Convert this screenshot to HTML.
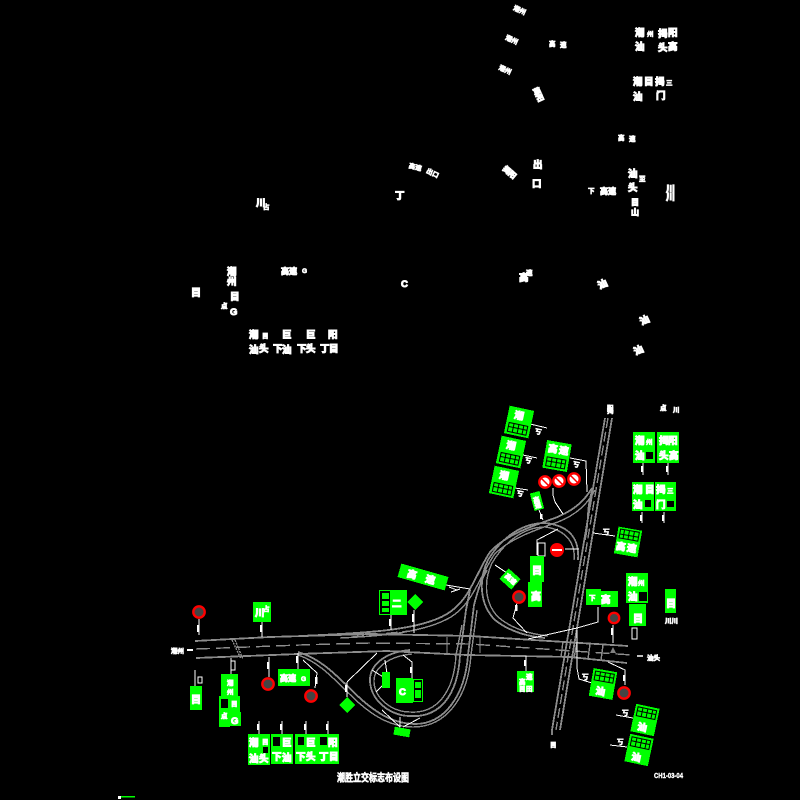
<!DOCTYPE html>
<html><head><meta charset="utf-8"><title>潮胜立交标志布设图</title>
<style>
html,body{margin:0;padding:0;background:#000}
svg{display:block}
text{font-family:"Liberation Sans","Noto Sans CJK SC",sans-serif;font-weight:bold;fill:#fff;stroke:#fff;stroke-width:1;font-size:9.5px}
.s{font-size:6.5px;stroke-width:.7}
.g{fill:#0f0;shape-rendering:crispEdges}
.r{fill:none;stroke:#8c8c8c;stroke-width:1.4;shape-rendering:crispEdges}
.w{fill:none;stroke:#fff;stroke-width:1;shape-rendering:crispEdges}
.f{fill:none;stroke:#fff;stroke-width:2.5;shape-rendering:crispEdges}
.k{fill:#000;shape-rendering:crispEdges}
.c{fill:#444;stroke:#f00;stroke-width:2.4}
</style></head><body>
<svg width="800" height="800" viewBox="0 0 800 800" xmlns="http://www.w3.org/2000/svg">
<rect width="800" height="800" fill="#000"/>
<defs><g id="p"><rect x="-11" y="0" width="22" height="12" fill="#0f0"/><rect x="-10" y="1" width="20" height="10" fill="#000"/><rect x="-9" y="2" width="4" height="3" fill="#0f0"/><rect x="-4" y="2" width="4" height="3" fill="#0f0"/><rect x="1" y="2" width="4" height="3" fill="#0f0"/><rect x="6" y="2" width="3" height="3" fill="#0f0"/><rect x="-9" y="6" width="4" height="4" fill="#0f0"/><rect x="-4" y="6" width="4" height="4" fill="#0f0"/><rect x="1" y="6" width="4" height="4" fill="#0f0"/><rect x="6" y="6" width="3" height="4" fill="#0f0"/></g></defs>

<!-- upper white annotation blocks -->
<g>
<text x="514" y="12" transform="rotate(25 519 8)" class="s">潮州</text>
<text x="506" y="42" transform="rotate(25 512 38)" class="s">潮州</text>
<text x="499" y="72" transform="rotate(25 505 69)" class="s">潮州</text>
<text x="549" y="46" class="s">高</text><text x="560" y="47" class="s">速</text>
<text x="532" y="96" transform="rotate(65 538 93)" style="font-size:7.5px">揭阳</text>
<text x="618" y="140" class="s">高</text><text x="629" y="141" class="s">速</text>
<text x="503" y="175" transform="rotate(40 510 171)" style="font-size:7.5px">揭阳</text>
<text x="533" y="168">出</text><text x="532" y="187">口</text>
<text x="588" y="193" class="s">下</text><text x="600" y="194" style="font-size:8px">高速</text>
<text x="628" y="177">汕</text><text x="639" y="181" class="s">至</text><text x="628" y="191">头</text>
<text x="631" y="205" style="font-size:8px">目</text><text x="631" y="215" style="font-size:8px">山</text>
<text x="666" y="200" style="font-size:9px">川</text><text x="666" y="192" style="font-size:9px">川</text>

<text x="635" y="36">潮</text><text x="647" y="36" class="s">州</text><text x="658" y="37">揭</text><text x="668" y="36">阳</text>
<text x="635" y="50">汕</text><text x="658" y="51">头</text><text x="668" y="50">高</text>
<text x="633" y="85">潮</text><text x="644" y="85">目</text><text x="655" y="85">揭</text><text x="666" y="85" class="s">三</text>
<text x="633" y="100">汕</text><text x="656" y="99">门</text>

<text x="409" y="169" transform="rotate(15 414 166)" class="s">高速</text>
<text x="427" y="175" transform="rotate(25 432 171)" class="s">出口</text>
<text x="256" y="206">川</text><text x="263" y="209" class="s">占</text>
<text x="395" y="199">丁</text>
<text x="281" y="274" style="font-size:8px">高速</text><text x="302" y="273" class="s">G</text>
<text x="401" y="287">C</text>
<text x="191" y="296" style="font-size:10px">目</text>
<text x="227" y="275">潮</text><text x="227" y="285">州</text>
<text x="230" y="300">目</text><text x="221" y="308" class="s">点</text><text x="230" y="315">G</text>
<text x="249" y="338">潮</text><text x="262" y="338" class="s">目</text><text x="249" y="353">汕</text><text x="259" y="352">头</text>
<text x="282" y="338">巨</text><text x="273" y="352">下</text><text x="282" y="353">汕</text>
<text x="306" y="338">巨</text><text x="297" y="352">下</text><text x="306" y="352">头</text>
<text x="328" y="338">阳</text><text x="320" y="352">丁</text><text x="329" y="352">目</text>
<text x="519" y="281">高</text><text x="526" y="275" class="s">速</text>
<text x="597" y="287" transform="rotate(-25 603 282)">汕</text>
<text x="639" y="323" transform="rotate(-25 645 318)">汕</text>
<text x="633" y="353" transform="rotate(-25 639 348)">汕</text>
</g>

<!-- roads -->
<g class="r">
<path d="M195 641 L270 637 L370 634 L470 636 L628 646" stroke-width="1.8"/>
<path d="M196 658 L298 654 L387 651 L467 655 L570 657 L627 663" stroke-width="1.8"/>
<path d="M196 649 L300 645 L370 643 L470 644 L632 655" stroke-dasharray="14 6"/>
<path d="M300 636 C370 633 420 630 447 614 C470 600 475 575 490 552 C505 535 535 525 555 518 C575 510 585 500 592 488" stroke-width="1.8"/>
<path d="M340 638 C385 636 425 632 451 617 C473 603 479 578 494 555 C508 539 538 529 558 522 C578 514 588 503 595 490"/>
<path d="M352 637 L410 631" stroke-dasharray="12 5"/>
<path d="M298 652 C325 660 340 680 362 700 C378 714 395 724 415 724 C445 724 465 695 468 655 L474 605 C478 590 481 580 487 570" stroke-width="1.8"/>
<path d="M298 655 C322 663 337 683 359 703 C375 717 392 727 413 727 C446 727 468 698 471 655 L477 610"/>
<path d="M410 650 C385 652 370 665 370 680 C370 700 390 716 410 716 C440 718 458 695 460 655 L466 610 L470 590" stroke-width="1.8"/>
<path d="M412 654 C390 656 374 667 374 681 C374 698 392 712 410 712 C436 714 454 693 456 655 L462 625"/>
<path d="M578 560 C580 535 565 525 545 523 C520 523 500 540 488 560 C478 580 480 605 495 620 C510 632 530 637 545 638" stroke-width="1.8"/>
<path d="M574 560 C576 540 562 529 545 527 C523 527 504 543 492 563 C483 582 485 603 498 617 C512 629 530 634 548 636"/>
<path d="M605 418 L552 730" stroke-width="1.8"/>
<path d="M612 418 L560 730" stroke-width="1.8"/>
<path d="M608 418 L556 730" stroke-dasharray="10 4"/>
<path d="M592 490 C585 515 590 520 585 540"/>
<path d="M232 640 L241 659 M235 640 L243 659" stroke-dasharray="2 1"/>
<path d="M447 637 L447 653 M480 637 L480 653 M563 641 L561 657 M577 642 L574 658 M590 644 L588 659 M603 645 L601 660"/>
</g>
<polygon points="613,647 616,653 610,653" fill="#808080"/>

<!-- white leaders -->
<g class="w">
<path d="M199 619V635M262 622V637M391 615V630M414 610V633M231 658V674M195 670V686M269 657V677M298 653V669M303 660L317 673L315 688M347 682V697M347 682L377 653"/>
<path d="M259 721V734M282 721V734M306 721V734M328 721V734"/>
<path d="M495 565L507 573M517 603L513 618L527 633M528 639L577 628L598 622V607M613 625V643M608 662L625 670V685M577 630L577 668L579 679L592 683"/>
<path d="M526 656V671M403 655L412 662V678M382 710L400 727M420 718L403 727M400 717V727M385 660L388 680M372 670L388 680M376 692L388 680M616 715L633 718M610 745L627 747"/>
<path d="M539 510L543 520M553 488V495L555 502L563 514M570 458L586 461L587 492M530 424L547 428M523 455L537 458M515 488L528 490M593 533L615 536M565 549H579M537 555V540L558 529"/>
<path d="M643 463V475M668 463V475M642 512V523M664 512V523"/>
<path d="M446 585L470 589M451 592L460 589M449 587L457 590"/>
<path d="M552 730V735"/>
</g>
<g class="f">
<path d="M198 625V632M261 625V632M390 619V626M413 614V622M268 662V669M297 656V663M316 677V684M346 685V692M258 724V730M281 724V730M305 724V730M327 724V730"/>
<path d="M516 605V611M612 628V635M624 675V681M525 660V666M411 667V673M541 514V519M642 466V472M667 466V472M641 515V521M663 515V521"/>
</g>
<rect x="231" y="661" width="4" height="9" fill="none" stroke="#fff"/><rect x="198" y="677" width="4" height="6" fill="none" stroke="#fff"/>
<rect x="632" y="628" width="5" height="11" fill="none" stroke="#fff"/><rect x="538" y="543" width="7" height="13" fill="none" stroke="#fff"/>
<text class="s" x="535" y="434" transform="rotate(12 538 431)">丂</text><text class="s" x="525" y="463" transform="rotate(12 529 460)">丂</text><text class="s" x="517" y="496" transform="rotate(12 520 492)">丂</text><text class="s" x="573" y="467" transform="rotate(12 577 464)">丂</text><text class="s" x="603" y="534">丂</text><text class="s" x="582" y="679">丂</text><text class="s" x="622" y="715">丂</text><text class="s" x="617" y="744">丂</text>

<!-- green signs -->
<g transform="translate(519,422) rotate(12)"><rect class="g" x="-12.5" y="-14" width="25" height="28"/><text x="-6" y="-3">潮</text><use href="#p" y="1"/></g>
<g transform="translate(511,452) rotate(12)"><rect class="g" x="-12.5" y="-14" width="25" height="28"/><text x="-6" y="-3">潮</text><use href="#p" y="1"/></g>
<g transform="translate(504,482) rotate(12)"><rect class="g" x="-12.5" y="-14" width="25" height="28"/><text x="-6" y="-3">潮</text><use href="#p" y="1"/></g>
<g transform="translate(557,456) rotate(10)"><rect class="g" x="-12.5" y="-14" width="25" height="28"/><text x="-10" y="-3">高</text><text x="1" y="-3">速</text><use href="#p" y="1"/></g>
<g transform="translate(628,542) rotate(190)"><rect class="g" x="-12" y="-13.5" width="24" height="27"/><use href="#p" y="1"/></g>
<text x="617" y="551" transform="rotate(10 628 542)">高</text><text x="628" y="551" transform="rotate(10 628 542)">速</text>
<g transform="translate(537,501) rotate(-15)"><rect class="g" x="-5" y="-9" width="10" height="18"/><text class="s" x="-3.5" y="1">高</text><text class="s" x="-3.5" y="7">速</text></g>
<rect class="g" x="633" y="432" width="22" height="31"/><rect class="g" x="657" y="432" width="22" height="31"/><rect class="k" x="646" y="452" width="7" height="7"/>
<text x="635" y="444">潮</text><text x="646" y="444" class="s">州</text><text x="635" y="459">汕</text><text x="659" y="444">揭</text><text x="668" y="444">阳</text><text x="659" y="459">头</text><text x="669" y="459">高</text>
<rect class="g" x="632" y="482" width="22" height="29"/><rect class="g" x="655" y="482" width="21" height="29"/><rect class="k" x="645" y="500" width="6" height="7"/><rect class="k" x="667" y="501" width="7" height="6"/>
<text x="633" y="493">潮</text><text x="645" y="493">目</text><text x="656" y="493">揭</text><text x="667" y="493" class="s">三</text><text x="633" y="508">汕</text><text x="656" y="508">门</text>

<rect class="g" x="530" y="556" width="14" height="26"/><rect class="g" x="528" y="582" width="14" height="25"/>
<text x="532" y="574" style="font-size:10px">目</text><text x="531" y="600" style="font-size:10px">高</text>
<g transform="translate(423,577) rotate(16)"><rect class="g" x="-24.5" y="-7" width="49" height="14"/><text x="-16" y="4">高</text><text x="3" y="4">速</text></g>
<rect class="g" x="379" y="590" width="28" height="25"/><rect class="k" x="380" y="591" width="10" height="23"/><rect class="g" x="382" y="593" width="7" height="6"/><rect class="g" x="382" y="601" width="7" height="5"/><rect class="g" x="382" y="608" width="7" height="4"/><text x="392" y="607">二</text>
<polygon class="g" points="415,594 423,602 415,610 407,602"/>
<g transform="translate(510,579) rotate(42)"><rect class="g" x="-8" y="-7" width="16" height="14"/><text class="s" x="-6" y="2">高速</text></g>
<rect class="g" x="253" y="602" width="18" height="20"/><text x="255" y="616">川</text><text class="s" x="263" y="611">占</text>
<rect class="g" x="586" y="589" width="15" height="16"/><rect class="g" x="601" y="591" width="17" height="16"/><text class="s" x="589" y="600">下</text><text x="601" y="603">高</text>
<rect class="g" x="626" y="573" width="22" height="30"/><rect class="g" x="629" y="604" width="17" height="22"/><rect class="k" x="639" y="592" width="8" height="9"/>
<text x="628" y="585">潮</text><text x="638" y="585" class="s">州</text><text x="628" y="600">汕</text><text x="633" y="622" style="font-size:10px">目</text>
<rect class="g" x="665" y="589" width="11" height="24"/><text x="666" y="607" style="font-size:10px">目</text><text class="s" x="665" y="623">川川</text>
<rect class="g" x="190" y="686" width="12" height="24"/><text x="191" y="703" style="font-size:10px">目</text>
<rect class="g" x="221" y="674" width="17" height="22"/><text x="227" y="685" class="s">潮</text><text x="227" y="694" class="s">州</text>
<rect class="g" x="219" y="696" width="11" height="31"/><rect class="g" x="230" y="696" width="10" height="16"/><rect class="g" x="230" y="712" width="11" height="14"/><rect class="k" x="221" y="699" width="7" height="9"/>
<text class="s" x="231" y="706">目</text><text class="s" x="221" y="718">点</text><text x="231" y="724">G</text>
<rect class="g" x="278" y="669" width="32" height="17"/><text x="280" y="681" style="font-size:8px">高速</text><text class="s" x="301" y="681">G</text>
<rect class="g" x="396" y="678" width="17" height="25"/><rect class="g" x="413" y="679" width="10" height="23"/><rect class="k" x="414" y="680" width="8" height="21"/><rect class="g" x="415" y="682" width="6" height="6"/><rect class="g" x="415" y="690" width="6" height="8"/><text x="399" y="695">C</text>
<rect class="g" x="382" y="672" width="8" height="16"/>
<g transform="translate(402,732) rotate(10)"><rect class="g" x="-8" y="-4" width="16" height="8"/></g>
<polygon class="g" points="347,697 355,705 347,713 339,705"/>
<rect class="g" x="517" y="671" width="17" height="21"/><text x="519" y="684" class="s">高</text><text x="526" y="679" class="s">速</text><text x="519" y="691" class="s">目</text><text x="526" y="691" class="s">田</text>
<g transform="translate(603,684) rotate(10)"><rect class="g" x="-12" y="-14" width="24" height="28"/><use href="#p" y="-13"/><text x="-6" y="11">汕</text></g>
<g transform="translate(645,720) rotate(12)"><rect class="g" x="-12" y="-14" width="24" height="28"/><use href="#p" y="-13"/><text x="-6" y="11">汕</text></g>
<g transform="translate(639,750) rotate(12)"><rect class="g" x="-12" y="-14" width="24" height="28"/><use href="#p" y="-13"/><text x="-6" y="11">汕</text></g>

<rect class="g" x="248" y="734" width="22" height="31"/><rect class="g" x="271" y="734" width="22" height="30"/><rect class="g" x="295" y="734" width="22" height="30"/><rect class="g" x="317" y="734" width="22" height="30"/>
<rect class="k" x="273" y="737" width="7" height="9"/><rect class="k" x="298" y="737" width="6" height="8"/><rect class="k" x="320" y="737" width="7" height="8"/><rect class="k" x="263" y="747" width="5" height="6"/>
<text x="249" y="746">潮</text><text x="249" y="762">汕</text><text x="259" y="762">头</text><text class="s" x="262" y="744">目</text>
<text x="282" y="746">巨</text><text x="272" y="760">下</text><text x="282" y="761">汕</text>
<text x="306" y="746">巨</text><text x="296" y="760">下</text><text x="306" y="760">头</text>
<text x="328" y="746">阳</text><text x="319" y="760">丁</text><text x="329" y="760">目</text>

<!-- red signs -->
<g>
<circle class="c" cx="199" cy="612" r="5.7"/><circle class="c" cx="268" cy="684" r="5.7"/><circle class="c" cx="311" cy="696" r="5.7"/><circle class="c" cx="519" cy="597" r="5.7"/><circle class="c" cx="614" cy="618" r="5.2"/><circle class="c" cx="624" cy="693" r="5.7"/>
<circle cx="545" cy="482" r="5.7" fill="#fff" stroke="#f00" stroke-width="2.4"/><circle cx="559" cy="481" r="5.7" fill="#fff" stroke="#f00" stroke-width="2.4"/><circle cx="574" cy="479" r="5.7" fill="#fff" stroke="#f00" stroke-width="2.4"/>
<path d="M541 478L549 486M555 477L563 485M570 475L578 483" stroke="#f00" stroke-width="1.5"/>
<circle cx="557" cy="550" r="7" fill="#f00"/><rect x="552" y="549" width="10" height="2" fill="#fff"/>
</g>

<!-- labels -->
<text x="171" y="653" class="s">潮州</text><path d="M187 650H193" stroke="#fff" stroke-width="2"/>
<text x="647" y="660" class="s">汕头</text><path d="M637 656H643" stroke="#fff" stroke-width="1.5"/>
<text x="607" y="413" class="s">揭</text><text x="607" y="410" class="s">阳</text>
<text x="660" y="410" class="s">点</text><text x="673" y="412" class="s">川</text>
<text x="550" y="747" class="s">目</text>
<text x="337" y="781" style="font-size:10.5px;stroke-width:.6" textLength="72" lengthAdjust="spacingAndGlyphs">潮胜立交标志布设图</text>
<text x="654" y="778" style="font-size:7.5px;stroke-width:.4" textLength="29" lengthAdjust="spacingAndGlyphs">CH1-03-04</text>
<rect x="118" y="796" width="17" height="1.5" fill="#0f0"/><rect x="118" y="796" width="3" height="3" fill="#fff"/>
</svg>
</body></html>
